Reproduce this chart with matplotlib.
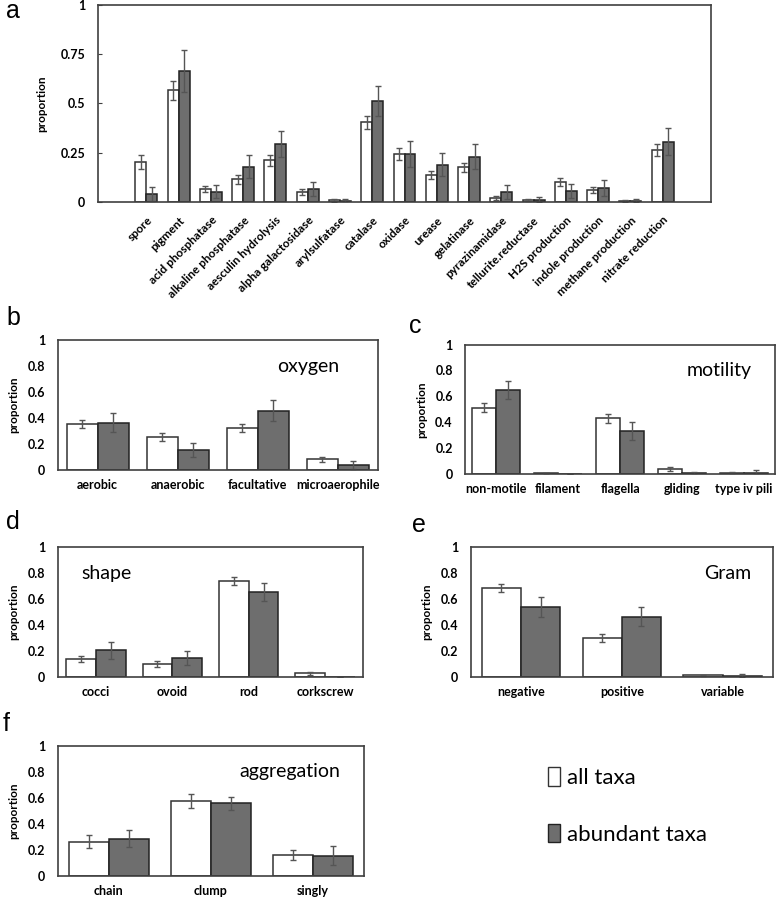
import numpy as np
import matplotlib.pyplot as plt
from matplotlib.patches import Patch

plt.rcParams['font.family'] = ['Lato', 'DejaVu Sans']

# panel a - enzymes / traits
a_cats = ['spore', 'pigment', 'acid phosphatase', 'alkaline phosphatase', 'aesculin hydrolysis',
          'alpha galactosidase', 'arylsulfatase', 'catalase', 'oxidase', 'urease', 'gelatinase',
          'pyrazinamidase', 'tellurite.reductase', 'H2S production', 'indole production',
          'methane production', 'nitrate reduction']
a_all = [0.203, 0.566, 0.066, 0.115, 0.213, 0.052, 0.008, 0.404, 0.243, 0.137, 0.176, 0.020, 0.008, 0.100, 0.059, 0.005, 0.264]
a_all_err = [0.035, 0.050, 0.016, 0.024, 0.028, 0.015, 0.006, 0.033, 0.029, 0.022, 0.024, 0.010, 0.005, 0.020, 0.015, 0.003, 0.029]
a_abund = [0.039, 0.667, 0.051, 0.179, 0.294, 0.066, 0.005, 0.514, 0.243, 0.189, 0.230, 0.051, 0.012, 0.057, 0.071, 0.007, 0.307]
a_abund_err = [0.035, 0.107, 0.033, 0.058, 0.068, 0.038, 0.009, 0.075, 0.065, 0.059, 0.062, 0.034, 0.013, 0.035, 0.040, 0.008, 0.068]

# panel b - oxygen
b_cats = ['aerobic', 'anaerobic', 'facultative', 'microaerophile']
b_all = [0.353, 0.255, 0.322, 0.082]
b_all_err = [0.031, 0.028, 0.032, 0.021]
b_abund = [0.366, 0.152, 0.459, 0.036]
b_abund_err = [0.072, 0.054, 0.079, 0.031]

# panel c - motility
c_cats = ['non-motile', 'filament', 'flagella', 'gliding', 'type iv pili']
c_all = [0.513, 0.005, 0.431, 0.036, 0.008]
c_all_err = [0.038, 0.0, 0.036, 0.015, 0.004]
c_abund = [0.649, 0.0, 0.331, 0.005, 0.010]
c_abund_err = [0.068, 0.0, 0.070, 0.010, 0.018]

# panel d - shape
d_cats = ['cocci', 'ovoid', 'rod', 'corkscrew']
d_all = [0.138, 0.100, 0.743, 0.028]
d_all_err = [0.026, 0.022, 0.030, 0.012]
d_abund = [0.205, 0.144, 0.656, 0.0]
d_abund_err = [0.064, 0.053, 0.072, 0.0]

# panel e - Gram
e_cats = ['negative', 'positive', 'variable']
e_all = [0.686, 0.301, 0.012]
e_all_err = [0.028, 0.032, 0.006]
e_abund = [0.537, 0.465, 0.010]
e_abund_err = [0.076, 0.073, 0.010]

# panel f - aggregation
f_cats = ['chain', 'clump', 'singly']
f_all = [0.264, 0.577, 0.162]
f_all_err = [0.049, 0.055, 0.040]
f_abund = [0.287, 0.559, 0.156]
f_abund_err = [0.067, 0.050, 0.074]

W = 778
H = 899
fig = plt.figure(figsize=(W / 100, H / 100), dpi=100)


def rect(left, top, right, bottom):
    # pixel box -> figure fraction
    return [left / W, 1 - bottom / H, (right - left) / W, (bottom - top) / H]


edge = '#333333'
gray = '#6e6e6e'
err_kw = dict(ecolor='#555555', elinewidth=1.0, capsize=2.5, capthick=1.0)


def draw_bars(ax, cats, all_v, all_e, ab_v, ab_e, width):
    x = np.arange(len(cats))
    ax.bar(x - width / 2, all_v, width, yerr=all_e, color='white', edgecolor=edge,
           linewidth=1.1, error_kw=err_kw, zorder=2)
    ax.bar(x + width / 2, ab_v, width, yerr=ab_e, color=gray, edgecolor='#222222',
           linewidth=1.1, error_kw=err_kw, zorder=2)
    for s in ax.spines.values():
        s.set_color('#404040')
        s.set_linewidth(1.2)
    ax.set_ylim(0, 1)
    return x


# Panel a
ax = fig.add_axes(rect(98, 5, 711, 202))
x = draw_bars(ax, a_cats, a_all, a_all_err, a_abund, a_abund_err, 0.34)
ax.set_xlim(-1.5, 17.5)
ax.set_yticks([0, 0.25, 0.5, 0.75, 1])
ax.set_yticklabels(['0', '0.25', '0.5', '0.75', '1'], fontsize=9, fontweight='bold')
ax.tick_params(axis='y', direction='in', length=3, pad=9, color='#404040')
ax.set_xticks(x)
ax.set_xticklabels(a_cats, rotation=45, ha='right', rotation_mode='anchor',
                   fontsize=8.5, fontweight='bold')
ax.tick_params(axis='x', length=0, pad=9)
ax.set_ylabel('proportion', fontsize=8.5, fontweight='bold', labelpad=10)

# Small panels
small = [
    (rect(57.7, 340.5, 377.7, 470), b_cats, b_all, b_all_err, b_abund, b_abund_err, 'oxygen', 0.784),
    (rect(465.3, 344.5, 775, 474), c_cats, c_all, c_all_err, c_abund, c_abund_err, 'motility', 0.82),
    (rect(57.7, 547.3, 363.3, 677), d_cats, d_all, d_all_err, d_abund, d_abund_err, 'shape', 0.16),
    (rect(470.7, 547.3, 773, 677), e_cats, e_all, e_all_err, e_abund, e_abund_err, 'Gram', 0.85),
    (rect(57.7, 746, 363.8, 876), f_cats, f_all, f_all_err, f_abund, f_abund_err, 'aggregation', 0.758),
]
for r, cats, av, ae, bv, be, title, tx in small:
    ax = fig.add_axes(r)
    x = draw_bars(ax, cats, av, ae, bv, be, 0.39)
    ax.set_xlim(-0.5, len(cats) - 0.5)
    ax.set_yticks([0, 0.2, 0.4, 0.6, 0.8, 1])
    ax.set_yticklabels(['0', '0.2', '0.4', '0.6', '0.8', '1'], fontsize=9, fontweight='bold')
    ax.set_xticks(x)
    ax.set_xticklabels(cats, fontsize=9, fontweight='bold')
    ax.tick_params(axis='both', length=0)
    ax.tick_params(axis='y', pad=9)
    ax.tick_params(axis='x', pad=6.5)
    ax.set_ylabel('proportion', fontsize=8.5, fontweight='bold', labelpad=6)
    ax.text(tx, 0.8, title, transform=ax.transAxes, ha='center', va='center', fontsize=14)

# Panel letters
letters = [('a', 6, 11), ('b', 6, 318), ('c', 409, 326), ('d', 6, 522), ('e', 412, 525), ('f', 3, 724)]
for lab, px, py in letters:
    fig.text(px / W, 1 - py / H, lab, fontsize=18, family='Liberation Sans',
             ha='left', va='center')

# Legend
handles = [Patch(facecolor='white', edgecolor=edge, linewidth=1.0),
           Patch(facecolor=gray, edgecolor='#222222', linewidth=1.0)]
fig.legend(handles, ['all taxa', 'abundant taxa'], loc='center left',
           bbox_to_anchor=(528 / W, 1 - 806 / H), frameon=False, fontsize=16,
           handlelength=0.55, handleheight=0.9, handletextpad=0.3, labelspacing=1.6)

plt.savefig('out.png', dpi=100)
